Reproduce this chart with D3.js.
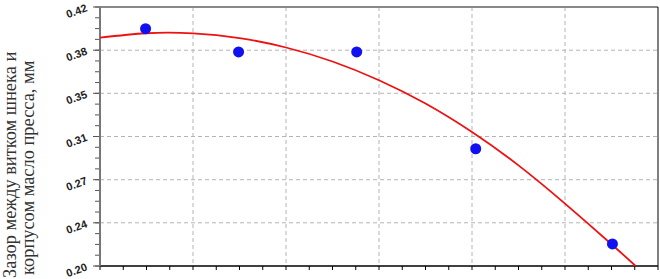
<!DOCTYPE html>
<html>
<head>
<meta charset="utf-8">
<script src="https://cdn.jsdelivr.net/npm/d3@7"></script>
<style>
  body { margin: 0; background: #fff; }
  svg { display: block; }
  .grid line { stroke: #b4b4b4; stroke-dasharray: 4,3; }
  .ytitle { font-family: "Liberation Serif", "Times New Roman", serif; font-size: 18.4px; fill: #333; }
</style>
</head>
<body>
<svg id="chart" width="660" height="279"></svg>
<script>
// measured points
var pointX = [0.49, 1.49, 2.76, 4.04, 5.51];
var pointY = [0.4016, 0.3818, 0.3818, 0.2996, 0.2187];

// fitted curve
var curveX = [0, 0.5, 1, 1.5, 2, 2.5, 3, 3.5, 4, 4.5, 5, 5.5, 5.76];
var curveY = [0.3939, 0.3977, 0.3976, 0.3936, 0.3856, 0.3737, 0.3578, 0.338, 0.3138, 0.2855, 0.2530, 0.2185, 0.20];

var yTicks = [0.20, 0.2367, 0.2733, 0.31, 0.3467, 0.3833, 0.42];
var yLabels = ["0.20", "0.24", "0.27", "0.31", "0.35", "0.38", "0.42"];
var xTicks = [0, 1, 2, 3, 4, 5, 6];
var yTitle = ["Зазор между витком шнека и", "корпусом масло пресса, мм"];

var svg = d3.select("#chart"),
    margin = {top: 7, right: 2, bottom: 13, left: 100},
    width = +svg.attr("width") - margin.left - margin.right,
    height = +svg.attr("height") - margin.top - margin.bottom;

var x = d3.scaleLinear().domain([0, 6]).range([0, width]),
    y = d3.scaleLinear().domain([0.20, 0.42]).range([height, 0]);

var g = svg.append("g")
    .attr("transform", "translate(" + margin.left + "," + margin.top + ")");

// minor tick positions
var xMinor = d3.range(0, 6.001, 0.25),
    yMinor = d3.range(0, 24.001).map(function(i) { return 0.20 + i * 0.22 / 24; });

// grid
g.append("g").attr("class", "grid")
  .selectAll("line").data(xTicks.slice(1, -1)).enter().append("line")
    .attr("x1", function(d) { return x(d); }).attr("x2", function(d) { return x(d); })
    .attr("y1", 0).attr("y2", height);
g.append("g").attr("class", "grid")
  .selectAll("line").data(yTicks.slice(1, -1)).enter().append("line")
    .attr("y1", function(d) { return y(d); }).attr("y2", function(d) { return y(d); })
    .attr("x1", 0).attr("x2", width);

// frame
g.append("line").attr("x1", 0).attr("x2", width).attr("y1", 0).attr("y2", 0)
    .attr("stroke", "#888").attr("stroke-width", 2);
g.append("line").attr("x1", width).attr("x2", width).attr("y1", 0).attr("y2", height)
    .attr("stroke", "#000").attr("stroke-width", 1);

// bottom axis
var xAxis = g.append("g").attr("transform", "translate(0," + height + ")");
xAxis.append("line").attr("x1", 0).attr("x2", width).attr("stroke", "#000").attr("stroke-width", 1.5);
xAxis.selectAll(".tk").data(xMinor).enter().append("line")
    .attr("x1", function(d) { return x(d); }).attr("x2", function(d) { return x(d); })
    .attr("y1", 0).attr("y2", 4).attr("stroke", "#000");

// left axis
var yAxis = g.append("g");
yAxis.selectAll(".tk").data(yMinor).enter().append("line")
    .attr("y1", function(d) { return y(d); }).attr("y2", function(d) { return y(d); })
    .attr("x1", -5).attr("x2", 0).attr("stroke", "#555");
yAxis.selectAll(".mj").data(yTicks).enter().append("line")
    .attr("y1", function(d) { return y(d); }).attr("y2", function(d) { return y(d); })
    .attr("x1", -7).attr("x2", 0).attr("stroke", "#555");
yAxis.append("line").attr("x1", 0).attr("x2", 0).attr("y1", 0).attr("y2", height)
    .attr("stroke", "#777").attr("stroke-width", 2);
yAxis.selectAll("text").data(yTicks).enter().append("text")
    .attr("transform", function(d) { return "translate(-12," + (y(d) + 4) + ") rotate(-20)"; })
    .attr("text-anchor", "end")
    .attr("font-family", "Liberation Sans, Arial, sans-serif")
    .attr("font-size", 11).attr("font-weight", "bold").attr("fill", "#222")
    .text(function(d, i) { return yLabels[i]; });

// fitted curve
var line = d3.line()
    .x(function(d) { return x(d[0]); })
    .y(function(d) { return y(d[1]); })
    .curve(d3.curveNatural);
g.append("path")
    .datum(curveX.map(function(v, i) { return [v, curveY[i]]; }))
    .attr("fill", "none").attr("stroke", "#ee1111").attr("stroke-width", 1.8)
    .attr("d", line);

// points
g.selectAll(".pt").data(pointX).enter().append("circle")
    .attr("cx", function(d) { return x(d); })
    .attr("cy", function(d, i) { return y(pointY[i]); })
    .attr("r", 5.5).attr("fill", "#1010f0");

// y title
var title = svg.append("text")
    .attr("class", "ytitle")
    .attr("transform", "translate(0,278) rotate(-90)")
    .attr("text-anchor", "start");
title.selectAll("tspan").data(yTitle).enter().append("tspan")
    .attr("x", function(d, i) { return i ? 3 : 0; })
    .attr("y", function(d, i) { return 16 + i * 17.5; })
    .text(function(d) { return d; });
</script>
</body>
</html>
